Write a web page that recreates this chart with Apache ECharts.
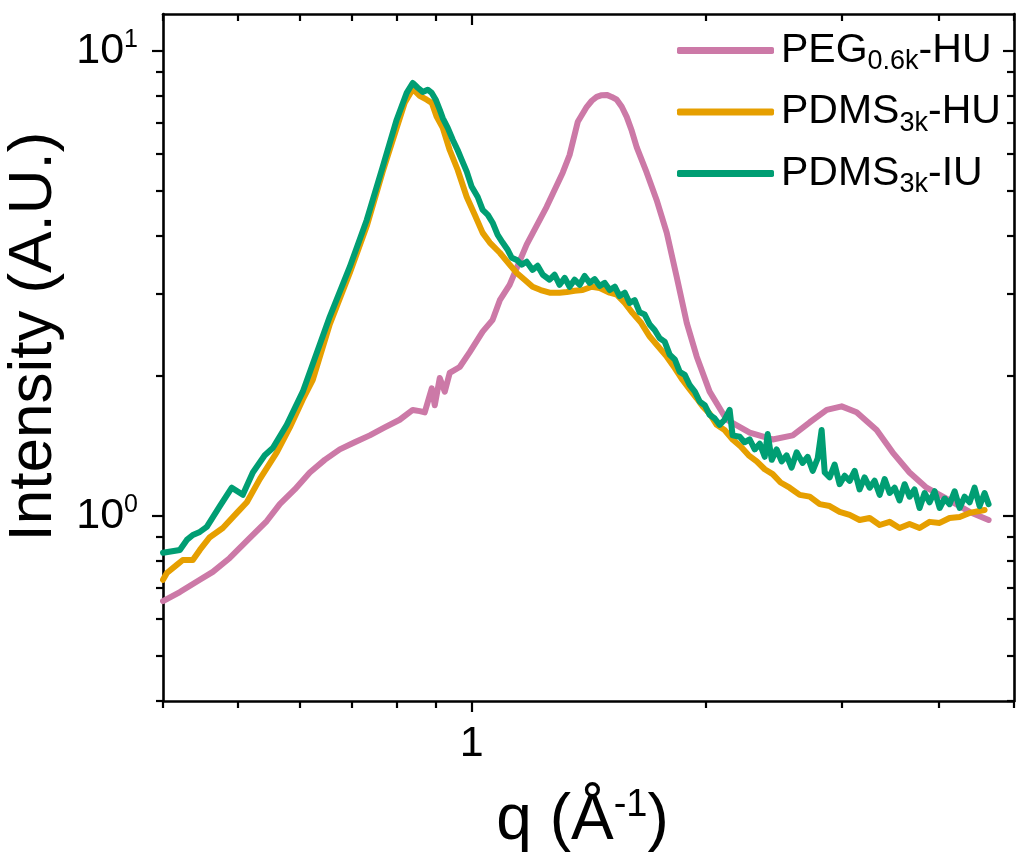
<!DOCTYPE html>
<html><head><meta charset="utf-8">
<script src="https://cdn.jsdelivr.net/npm/echarts@6.0.0/dist/echarts.min.js"></script>
<style>html,body{margin:0;padding:0;background:#fff}#c{width:1016px;height:861px}</style>
</head><body><div id="c"></div>
<script>
// ---- data (q in 1/Å, intensity in A.U.) ----
const seriesNames = ['PEG0.6k-HU', 'PDMS3k-HU', 'PDMS3k-IU'];
const legendParts = [['PEG', '0.6k', '-HU'], ['PDMS', '3k', '-HU'], ['PDMS', '3k', '-IU']];
const seriesColors = ['#CC79A7', '#E69F00', '#009E73'];

const pegQ = [0.400,0.4205,0.4462,0.4637,0.4877,0.5176,0.5443,0.5657,0.5914,0.6184,0.6464,0.6759,0.7066,0.7389,0.7724,0.8075,0.8394,0.857,0.8698,0.8882,0.8961,0.9095,0.9231,0.9367,0.965,0.9941,1.033,1.064,1.087,1.119,1.177,1.249,1.31,1.337,1.37,1.407,1.428,1.449,1.471,1.493,1.515,1.538,1.561,1.584,1.608,1.632,1.681,1.731,1.784,1.837,1.893,1.95,2.026,2.131,2.282,2.443,2.593,2.727,2.868,2.998,3.134,3.326,3.487,3.667,3.857,4.13,4.383,4.637];
const pegI = [0.656,0.686,0.729,0.758,0.812,0.897,0.975,1.06,1.14,1.24,1.32,1.39,1.44,1.49,1.55,1.61,1.69,1.68,1.67,1.88,1.73,1.98,1.85,2.03,2.09,2.25,2.49,2.64,2.91,3.14,3.83,4.62,5.47,5.97,7.04,7.58,7.81,7.96,8.03,8.04,7.96,7.85,7.58,7.21,6.73,6.2,5.47,4.78,4.06,3.27,2.60,2.20,1.85,1.61,1.51,1.46,1.49,1.59,1.69,1.72,1.67,1.53,1.37,1.24,1.15,1.08,1.02,0.98];

const huQ = [0.400,0.4046,0.4167,0.4242,0.437,0.4462,0.4596,0.4777,0.498,0.513,0.5331,0.5607,0.5828,0.6057,0.6239,0.6561,0.6963,0.7323,0.7678,0.8003,0.8196,0.8394,0.857,0.875,0.8882,0.9014,0.9176,0.9367,0.959,0.9853,1.009,1.033,1.055,1.087,1.119,1.143,1.17,1.198,1.227,1.26,1.298,1.326,1.357,1.39,1.428,1.462,1.506,1.538,1.575,1.612,1.651,1.696,1.737,1.784,1.827,1.87,1.91,1.95,1.985,2.026,2.069,2.118,2.169,2.222,2.275,2.33,2.386,2.443,2.501,2.569,2.647,2.727,2.809,2.893,2.98,3.07,3.162,3.258,3.356,3.457,3.56,3.667,3.778,3.892,4.01,4.13,4.255,4.383,4.582];
const huI = [0.729,0.754,0.785,0.804,0.804,0.845,0.90,0.942,1.015,1.07,1.20,1.37,1.55,1.78,1.96,2.58,3.33,4.20,5.50,6.83,7.73,8.28,8.0,7.85,7.73,7.21,6.83,6.12,5.55,4.85,4.44,4.06,3.87,3.68,3.47,3.33,3.22,3.11,3.06,3.02,3.02,3.03,3.05,3.06,3.11,3.09,3.02,2.99,2.87,2.73,2.61,2.43,2.32,2.20,2.08,1.96,1.87,1.79,1.72,1.66,1.57,1.53,1.46,1.41,1.35,1.31,1.26,1.23,1.18,1.15,1.11,1.10,1.06,1.05,1.02,1.005,0.98,0.99,0.956,0.971,0.942,0.961,0.942,0.971,0.966,0.99,0.995,1.015,1.03];

const iuQ = [0.400,0.4205,0.4293,0.437,0.4462,0.4555,0.4735,0.4906,0.5069,0.5222,0.541,0.5541,0.5776,0.6057,0.6561,0.6963,0.7323,0.7678,0.8003,0.8245,0.8394,0.852,0.8647,0.8775,0.8882,0.8987,0.9095,0.9176,0.9313,0.9452,0.959,0.9708,0.9853,1.0,1.018,1.033,1.049,1.064,1.080,1.096,1.113,1.126,1.143,1.160,1.177,1.198,1.216,1.235,1.26,1.279,1.298,1.318,1.337,1.357,1.378,1.398,1.419,1.44,1.462,1.484,1.506,1.529,1.551,1.575,1.598,1.622,1.646,1.671,1.696,1.721,1.747,1.773,1.80,1.827,1.854,1.882,1.91,1.939,1.968,1.997,2.026,2.057,2.087,2.118,2.15,2.169,2.215,2.247,2.282,2.316,2.351,2.386,2.407,2.436,2.472,2.509,2.546,2.584,2.623,2.670,2.710,2.751,2.792,2.825,2.851,2.893,2.936,2.98,3.025,3.07,3.116,3.162,3.209,3.258,3.306,3.356,3.406,3.457,3.508,3.56,3.614,3.667,3.722,3.778,3.835,3.892,3.951,4.01,4.07,4.13,4.192,4.255,4.318,4.383,4.448,4.514,4.582,4.637];
const iuI = [0.833,0.845,0.888,0.910,0.924,0.947,1.05,1.15,1.11,1.24,1.35,1.40,1.57,1.85,2.68,3.43,4.33,5.63,7.11,8.12,8.53,8.33,8.16,8.25,8.12,7.85,7.47,7.17,6.83,6.44,6.12,5.83,5.50,5.10,4.85,4.55,4.44,4.27,4.02,3.87,3.73,3.59,3.55,3.47,3.52,3.38,3.45,3.30,3.22,3.30,3.14,3.25,3.11,3.22,3.14,3.28,3.17,3.23,3.12,3.17,3.06,3.11,2.97,3.02,2.87,2.91,2.74,2.71,2.58,2.51,2.41,2.37,2.22,2.17,2.04,2.01,1.91,1.85,1.76,1.73,1.65,1.62,1.57,1.61,1.69,1.49,1.48,1.44,1.46,1.39,1.43,1.34,1.50,1.32,1.39,1.31,1.35,1.27,1.37,1.30,1.34,1.25,1.33,1.53,1.24,1.21,1.29,1.17,1.22,1.19,1.25,1.14,1.21,1.15,1.19,1.11,1.20,1.12,1.15,1.08,1.17,1.10,1.14,1.04,1.12,1.07,1.13,1.04,1.09,1.06,1.13,1.04,1.10,1.07,1.15,1.05,1.12,1.06];

// ---- axes ----
const xRange = [0.4, 5];
const yRange = [0.4, 12];
const xMajorTicks = [1];
const xMinorTicks = [0.4, 0.5, 0.6, 0.7, 0.8, 0.9, 2, 3, 4, 5];
const xTickLabels = ['1'];
const yMajorTicks = [1, 10];
const yMinorTicks = [0.4, 0.5, 0.6, 0.7, 0.8, 0.9, 2, 3, 4, 5, 6, 7, 8, 9];
const yTickExponents = ['0', '1'];

const FONT = '"Liberation Sans", Arial, sans-serif';
const lg = Math.log10;
const zip = (a, b) => a.map((v, i) => [v, b[i]]);

function decoAxis(range, pos, ticks, len, inside, showLine, extra) {
  const ax = {
    type: 'value', position: pos, min: lg(range[0]), max: lg(range[1]),
    axisLine: { show: showLine, onZero: false, lineStyle: { color: '#000', width: 2.6 } },
    axisTick: { show: true, inside: inside, length: len, customValues: ticks.map(lg),
                lineStyle: { color: '#000', width: 2.2 } },
    axisLabel: { show: false },
    splitLine: { show: false }
  };
  return Object.assign(ax, extra || {});
}

const xAxes = [
  { type: 'log', logBase: 10, min: xRange[0], max: xRange[1], show: false,
    axisLine: { onZero: false }, splitLine: { show: false } },
  decoAxis(xRange, 'bottom', xMajorTicks, 11, false, true, {
    name: '{a|q (Å}{s|-1}{a|)}', nameLocation: 'middle', nameGap: 86,
    nameTextStyle: { padding: [0, 12, 0, 0], rich: {
      a: { fontSize: 64, fontFamily: FONT, color: '#000', lineHeight: 68 },
      s: { fontSize: 38, fontFamily: FONT, color: '#000', lineHeight: 38, verticalAlign: 'top' } } },
    axisLabel: { show: true, margin: 22, customValues: xMajorTicks.map(lg),
      fontSize: 43, fontFamily: FONT, color: '#000',
      formatter: v => xTickLabels[xMajorTicks.findIndex(t => Math.abs(lg(t) - v) < 1e-9)] }
  }),
  decoAxis(xRange, 'bottom', xMinorTicks, 7, false, false),
  decoAxis(xRange, 'top', xMajorTicks, 11, true, true),
  decoAxis(xRange, 'top', xMinorTicks, 7, true, false)
];

const yAxes = [
  { type: 'log', logBase: 10, min: yRange[0], max: yRange[1], show: false,
    axisLine: { onZero: false }, splitLine: { show: false } },
  decoAxis(yRange, 'left', yMajorTicks, 11, false, true, {
    name: 'Intensity (A.U.)', nameLocation: 'middle', nameGap: 86,
    nameTextStyle: { fontSize: 62, fontFamily: FONT, color: '#000', padding: [0, 0, 0, 42] },
    axisLabel: { show: true, margin: 25, customValues: yMajorTicks.map(lg),
      formatter: v => '{b|10}{s|' + yTickExponents[yMajorTicks.findIndex(t => Math.abs(lg(t) - v) < 1e-9)] + '}',
      rich: {
        b: { fontSize: 43, fontFamily: FONT, color: '#000', lineHeight: 46 },
        s: { fontSize: 25, fontFamily: FONT, color: '#000', lineHeight: 25, verticalAlign: 'top' } } }
  }),
  decoAxis(yRange, 'left', yMinorTicks, 7, false, false),
  decoAxis(yRange, 'right', yMajorTicks, 11, true, true),
  decoAxis(yRange, 'right', yMinorTicks, 7, true, false)
];

const dataSets = [zip(pegQ, pegI), zip(huQ, huI), zip(iuQ, iuI)];

const option = {
  animation: false,
  backgroundColor: '#fff',
  grid: { left: 163, right: 2, top: 14, bottom: 160, containLabel: false, outerBoundsMode: 'none' },
  xAxis: xAxes,
  yAxis: yAxes,
  legend: {
    orient: 'vertical', left: 672, top: 25, itemGap: 16,
    itemWidth: 97, itemHeight: 7, icon: 'roundRect',
    data: seriesNames,
    formatter: name => {
      const p = legendParts[seriesNames.indexOf(name)];
      return '{m|' + p[0] + '}{s|' + p[1] + '}{m|' + p[2] + '}';
    },
    textStyle: { color: '#000', fontFamily: FONT, padding: [0, 0, 0, 2], rich: {
      m: { fontSize: 41, fontFamily: FONT, color: '#000', lineHeight: 50 },
      s: { fontSize: 27, fontFamily: FONT, color: '#000', lineHeight: 27, verticalAlign: 'bottom' } } }
  },
  series: seriesNames.map((n, i) => ({
    name: n, type: 'line', xAxisIndex: 0, yAxisIndex: 0,
    data: dataSets[i], showSymbol: false, symbol: 'none',
    color: seriesColors[i],
    lineStyle: { color: seriesColors[i], width: 6, cap: 'round', join: 'round' },
    z: 2 + i
  }))
};

const chart = echarts.init(document.getElementById('c'), null, { renderer: 'canvas' });
chart.setOption(option);
</script>
</body></html>
